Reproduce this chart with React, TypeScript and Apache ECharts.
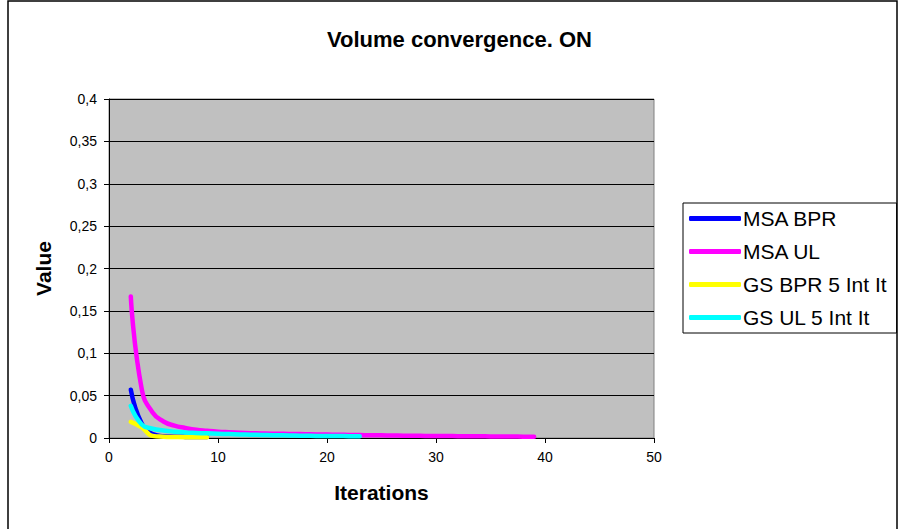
import React, { useEffect, useRef } from "react";
import * as echarts from "echarts";

const titleText = "Volume convergence. ON";
const seriesNames = ["MSA BPR", "MSA UL", "GS BPR 5 Int It", "GS UL 5 Int It"];
const seriesColors = ["#0000FF", "#FF00FF", "#FFFF00", "#00FFFF"];

const msaBprX = [2, 3, 4, 5, 6, 7, 8, 9];
const msaBprY = [0.057, 0.017, 0.0045, 0.0022, 0.0016, 0.0013, 0.0012, 0.0011];

const msaUlX = [2, 3, 4, 5, 6, 7, 8, 9, 10, 11, 12, 13, 14, 15, 16, 17, 18, 19, 20, 21, 22, 23, 24, 25, 26, 27, 28, 29, 30, 31, 32, 33, 34, 35, 36, 37, 38, 39];
const msaUlY = [0.167, 0.058, 0.03, 0.0195, 0.0145, 0.0118, 0.0097, 0.0085, 0.0075, 0.0068, 0.0062, 0.0057, 0.0053, 0.005, 0.0049, 0.0047, 0.0045, 0.0042, 0.004, 0.0038, 0.0036, 0.0034, 0.0033, 0.0031, 0.003, 0.0028, 0.0027, 0.0025, 0.0024, 0.0023, 0.0022, 0.0021, 0.002, 0.0019, 0.0018, 0.0017, 0.0016, 0.0015];

const gsBprX = [2, 3, 4, 5, 6, 7, 8, 9];
const gsBprY = [0.019, 0.0125, 0.0025, 0.0015, 0.0012, 0.001, 0.001, 0.0009];

const gsUlX = [2, 3, 4, 5, 6, 7, 8, 9, 10, 11, 12, 13, 14, 15, 16, 17, 18, 19, 20, 21, 22, 23];
const gsUlY = [0.038, 0.016, 0.011, 0.0088, 0.0075, 0.0066, 0.006, 0.0055, 0.005, 0.0046, 0.0042, 0.0039, 0.0036, 0.0033, 0.0031, 0.0029, 0.0027, 0.0025, 0.0024, 0.0023, 0.0022, 0.0021];

const xTicks = [0, 10, 20, 30, 40, 50];
const yTickLabels = ["0", "0,05", "0,1", "0,15", "0,2", "0,25", "0,3", "0,35", "0,4"];

const FONT = "'Liberation Sans', Arial, sans-serif";

function pairs(xs: number[], ys: number[]) {
  return xs.map((x, i) => [x, ys[i]]);
}

export default function App() {
  const ref = useRef<HTMLDivElement>(null);
  useEffect(() => {
    if (!ref.current) return;
    const chart = echarts.init(ref.current, undefined, { renderer: "svg" });
    const dataSets = [
      pairs(msaBprX, msaBprY),
      pairs(msaUlX, msaUlY),
      pairs(gsBprX, gsBprY),
      pairs(gsUlX, gsUlY),
    ];
    chart.setOption({
      animation: false,
      backgroundColor: "#FFFFFF",
      title: {
        text: titleText,
        left: 322,
        top: 23,
        textStyle: { fontFamily: FONT, fontSize: 22, fontWeight: "bold", color: "#000" },
      },
      graphic: [
        {
          type: "rect",
          shape: { x: 8, y: 1, width: 889, height: 560 },
          style: { fill: "none", stroke: "#000", lineWidth: 1.5 },
          silent: true,
        },
      ],
      legend: {
        orient: "vertical",
        left: 683,
        top: 203,
        padding: [5, 10, 5, 6],
        itemGap: 12,
        itemWidth: 52,
        itemHeight: 5,
        icon: "roundRect",
        borderColor: "#000",
        borderWidth: 1,
        backgroundColor: "#FFFFFF",
        data: seriesNames,
        textStyle: { fontFamily: FONT, fontSize: 21, color: "#000", padding: [0, 0, 0, -3] },
      },
      grid: {
        left: 109,
        right: 245,
        top: 99,
        bottom: 91,
        show: true,
        backgroundColor: "#C0C0C0",
        borderColor: "#808080",
        borderWidth: 1,
      },
      xAxis: {
        type: "value",
        min: xTicks[0],
        max: xTicks[xTicks.length - 1],
        interval: 10,
        name: "Iterations",
        nameLocation: "middle",
        nameGap: 44,
        nameTextStyle: { fontFamily: FONT, fontSize: 21, fontWeight: "bold", color: "#000" },
        axisLine: { show: true, lineStyle: { color: "#000", width: 1 } },
        axisTick: { show: true, length: 5, lineStyle: { color: "#000" } },
        axisLabel: { fontFamily: FONT, fontSize: 14, color: "#000", margin: 12 },
        splitLine: { show: false },
      },
      yAxis: {
        type: "value",
        min: 0,
        max: 0.4,
        interval: 0.05,
        name: "Value",
        nameLocation: "middle",
        nameGap: 55,
        nameTextStyle: { fontFamily: FONT, fontSize: 21, fontWeight: "bold", color: "#000" },
        axisLine: { show: true, lineStyle: { color: "#000", width: 1 } },
        axisTick: { show: true, length: 5, lineStyle: { color: "#000" } },
        axisLabel: {
          fontFamily: FONT,
          fontSize: 14,
          color: "#000",
          margin: 12,
          formatter: (v: number) => yTickLabels[Math.round(v / 0.05)] ?? String(v),
        },
        splitLine: { show: true, lineStyle: { color: "#000", width: 1 } },
      },
      series: seriesNames.map((name, i) => ({
        name,
        type: "line",
        data: dataSets[i],
        smooth: true,
        showSymbol: false,
        symbol: "none",
        color: seriesColors[i],
        lineStyle: { color: seriesColors[i], width: 4.5, cap: "round", join: "round" },
        z: 2 + i,
      })),
    });
    return () => chart.dispose();
  }, []);
  return (
    <div
      ref={ref}
      style={{ position: "fixed", left: 0, top: 0, width: 899, height: 529 }}
    />
  );
}
